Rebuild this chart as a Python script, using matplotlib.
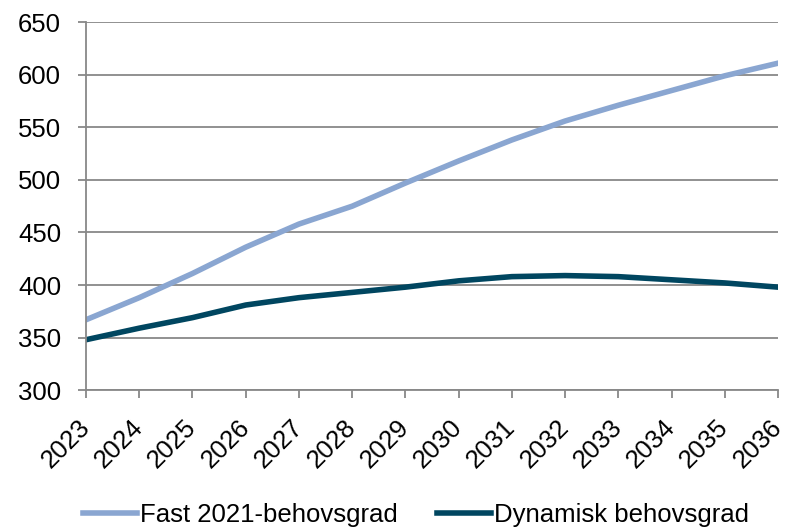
import numpy as np
import matplotlib.pyplot as plt

years = list(range(2023, 2037))
fast = [367, 388, 411, 436, 458, 475, 497, 518, 538, 556, 571, 585, 599, 611]
dynamisk = [348, 359, 369, 381, 388, 393, 398, 404, 408, 409, 408, 405, 402, 398]
labels = ["Fast 2021-behovsgrad", "Dynamisk behovsgrad"]
colors = ["#8aa6d1", "#004660"]

plt.rcParams['font.family'] = ['Liberation Sans', 'DejaVu Sans']
fig = plt.figure(figsize=(7.85, 5.28), dpi=100)
ax = fig.add_axes([0.1096, 0.261, 0.8815, 0.697])

ax.plot(years, fast, color=colors[0], lw=4, label=labels[0])
ax.plot(years, dynamisk, color=colors[1], lw=4, label=labels[1])

ax.set_xlim(2023, 2036)
ax.set_ylim(300, 650)
ax.set_yticks(np.arange(300, 651, 50))
ax.set_xticks(years)
ax.set_xticklabels([str(y) for y in years], rotation=45, ha='right', va='center',
                   rotation_mode='anchor')
ax.yaxis.grid(True, color='#888888', lw=1.3)
ax.set_axisbelow(True)
for s in ['top', 'right']:
    ax.spines[s].set_visible(False)
for s in ['left', 'bottom']:
    ax.spines[s].set_color('#888888')
    ax.spines[s].set_linewidth(1.3)
ax.tick_params(axis='both', colors='#888888', labelcolor='black', labelsize=18.5,
               length=6, width=1.3)
ax.tick_params(axis='y', pad=12)
ax.tick_params(axis='x', pad=18)

fig.legend(*ax.get_legend_handles_labels(), loc='center',
           bbox_to_anchor=(416 / 785, 1 - 515 / 528), ncol=2, frameon=False,
           fontsize=18.5, handlelength=2.1, handletextpad=0.12, columnspacing=1.5,
           borderpad=0)

plt.savefig('out.png', dpi=100)
